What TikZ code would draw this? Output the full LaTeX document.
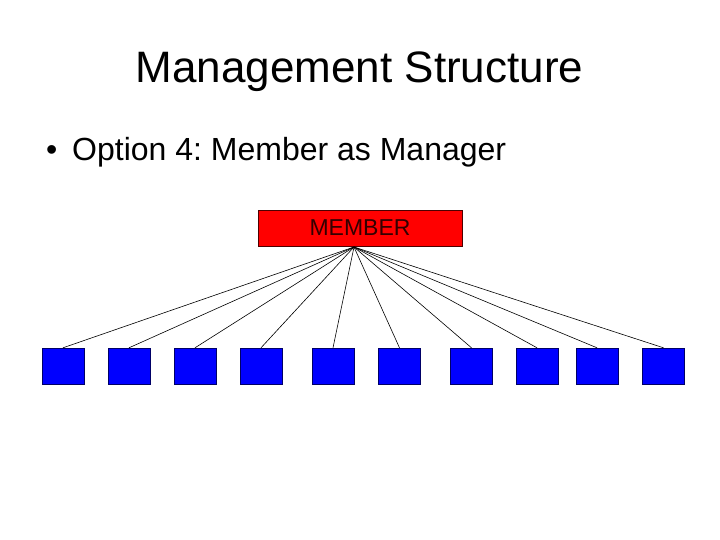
\documentclass[tikz,border=0pt]{standalone}
\usepackage{fontspec}
\setmainfont{Liberation Sans}
\usepackage{tikz}
\frenchspacing

\begin{document}
\begin{tikzpicture}[x=1pt,y=-1pt,
    member/.style={draw=black!70!red,fill=red,minimum width=204pt,minimum height=36pt,
        inner sep=0pt,font=\fontsize{23}{27}\selectfont,text=black!80!red},
    worker/.style={draw=blue!40!black,fill=blue,minimum width=42pt,minimum height=36pt,inner sep=0pt},
    link/.style={black,line width=0.6pt}]
    \useasboundingbox (0,0) rectangle (720,540);

    % Title and bullet
    \node[anchor=base,inner sep=0pt,font=\fontsize{44}{50}\selectfont] (title) at (359.5,83) {Management Structure};
    \node[anchor=base west,inner sep=0pt,font=\fontsize{32}{38}\selectfont] (option) at (46,161)
        {\makebox[26pt][l]{\textbullet}Option 4: Member as Manager};

    % Manager
    \node[member] (member) at (360,228) {MEMBER};
    \coordinate (hub) at (354,247);

    % Members below
    \foreach \x [count=\i] in {63,129,195,261,333,399.5,471.5,537,597,663.5} {
        \node[worker] (w\i) at (\x,366) {};
        \draw[link] (hub) -- (w\i.north);
    }

\end{tikzpicture}
\end{document}
